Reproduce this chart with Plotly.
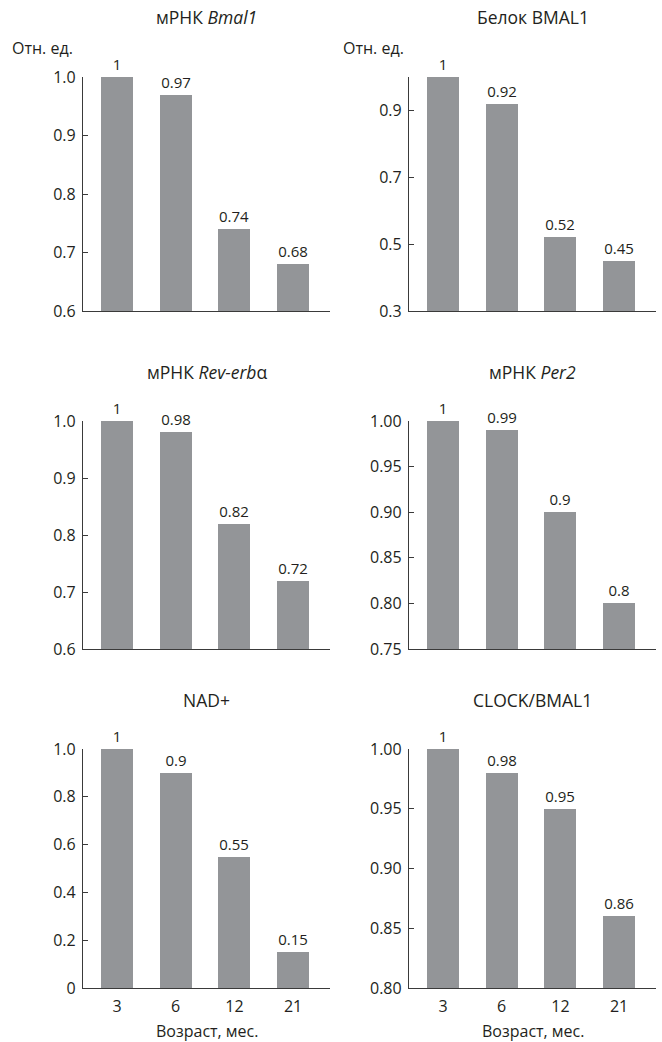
import plotly.graph_objects as go

ages = ["3", "6", "12", "21"]

titles = ["мРНК <i>Bmal1</i>", "Белок BMAL1", "мРНК <i>Rev-erb</i>α",
          "мРНК <i>Per2</i>", "NAD+", "CLOCK/BMAL1"]

bmal1_mrna = [1, 0.97, 0.74, 0.68]
bmal1_protein = [1, 0.92, 0.52, 0.45]
reverb_mrna = [1, 0.98, 0.82, 0.72]
per2_mrna = [1, 0.99, 0.9, 0.8]
nad = [1, 0.9, 0.55, 0.15]
clock_bmal1 = [1, 0.98, 0.95, 0.86]

series = [bmal1_mrna, bmal1_protein, reverb_mrna, per2_mrna, nad, clock_bmal1]

y_ranges = [[0.6, 1.0], [0.3, 1.0], [0.6, 1.0], [0.75, 1.0], [0, 1.0], [0.8, 1.0]]
y_ticks = [
    [0.6, 0.7, 0.8, 0.9, 1.0],
    [0.3, 0.5, 0.7, 0.9],
    [0.6, 0.7, 0.8, 0.9, 1.0],
    [0.75, 0.80, 0.85, 0.90, 0.95, 1.00],
    [0, 0.2, 0.4, 0.6, 0.8, 1.0],
    [0.80, 0.85, 0.90, 0.95, 1.00],
]
y_ticktext = [
    ["0.6", "0.7", "0.8", "0.9", "1.0"],
    ["0.3", "0.5", "0.7", "0.9"],
    ["0.6", "0.7", "0.8", "0.9", "1.0"],
    ["0.75", "0.80", "0.85", "0.90", "0.95", "1.00"],
    ["0", "0.2", "0.4", "0.6", "0.8", "1.0"],
    ["0.80", "0.85", "0.90", "0.95", "1.00"],
]

W, H = 662, 1042
FONT = "Open Sans"
TXT = "#231f20"
BAR = "#939598"
AX = "#3a3a3a"

col_px = [(83, 330), (409, 656)]
row_px = [(77, 311), (421, 649), (749, 988)]

fig = go.Figure()
layout = dict(
    width=W, height=H,
    margin=dict(l=0, r=0, t=0, b=0, autoexpand=False),
    paper_bgcolor="white", plot_bgcolor="white",
    showlegend=False,
    font=dict(family=FONT, size=15, color=TXT),
    bargap=0,
)

annotations = []
for i, vals in enumerate(series):
    r, c = divmod(i, 2)
    k = "" if i == 0 else str(i + 1)
    xd = [col_px[c][0] / W, col_px[c][1] / W]
    yd = [1 - row_px[r][1] / H, 1 - row_px[r][0] / H]
    fig.add_trace(go.Bar(
        x=list(range(len(ages))), y=vals,
        width=0.545,
        marker=dict(color=BAR, line=dict(width=0)),
        text=[f"{v:g}" for v in vals],
        textposition="outside",
        textfont=dict(family=FONT, size=15, color=TXT),
        cliponaxis=False,
        hoverinfo="skip",
        xaxis="x" + k, yaxis="y" + k,
    ))
    bottom = (r == 2)
    layout["xaxis" + k] = dict(
        domain=xd, anchor="y" + k,
        range=[-0.58, 3.63],
        automargin=False,
        showline=True, linecolor=AX, linewidth=1.3,
        showgrid=False, zeroline=False,
        tickmode="array", tickvals=list(range(len(ages))), ticktext=ages,
        showticklabels=bottom, ticks="",
        tickfont=dict(family=FONT, size=16, color=TXT),
        ticklabelstandoff=4,
        fixedrange=True,
    )
    layout["yaxis" + k] = dict(
        domain=yd, anchor="x" + k,
        range=y_ranges[i],
        automargin=False,
        showline=True, linecolor=AX, linewidth=1.3,
        showgrid=False, zeroline=False,
        tickmode="array", tickvals=y_ticks[i], ticktext=y_ticktext[i],
        ticks="inside", ticklen=5, tickcolor=AX, tickwidth=1.3,
        tickfont=dict(family=FONT, size=16, color=TXT),
        ticklabelstandoff=3,
        fixedrange=True,
    )
    annotations.append(dict(
        text=titles[i], xref="paper", yref="paper",
        x=(xd[0] + xd[1]) / 2, y=yd[1] + (60 if r == 0 else 49) / H,
        xanchor="center", yanchor="middle", showarrow=False,
        font=dict(family=FONT, size=17.5, color=TXT),
    ))
    if r == 0:
        annotations.append(dict(
            text="Отн. ед.", xref="paper", yref="paper",
            x=(10 if c == 0 else 341) / W, y=1 - 48 / H,
            xanchor="left", yanchor="middle", showarrow=False,
            font=dict(family=FONT, size=16, color=TXT),
        ))
    if bottom:
        annotations.append(dict(
            text="Возраст, мес.", xref="paper", yref="paper",
            x=(xd[0] + xd[1]) / 2, y=1 - 1031 / H,
            xanchor="center", yanchor="middle", showarrow=False,
            font=dict(family=FONT, size=16, color=TXT),
        ))

layout["annotations"] = annotations
fig.update_layout(**layout)
fig.write_html("out.html", config={"displayModeBar": False},
               post_script="document.body.style.margin='0';")
